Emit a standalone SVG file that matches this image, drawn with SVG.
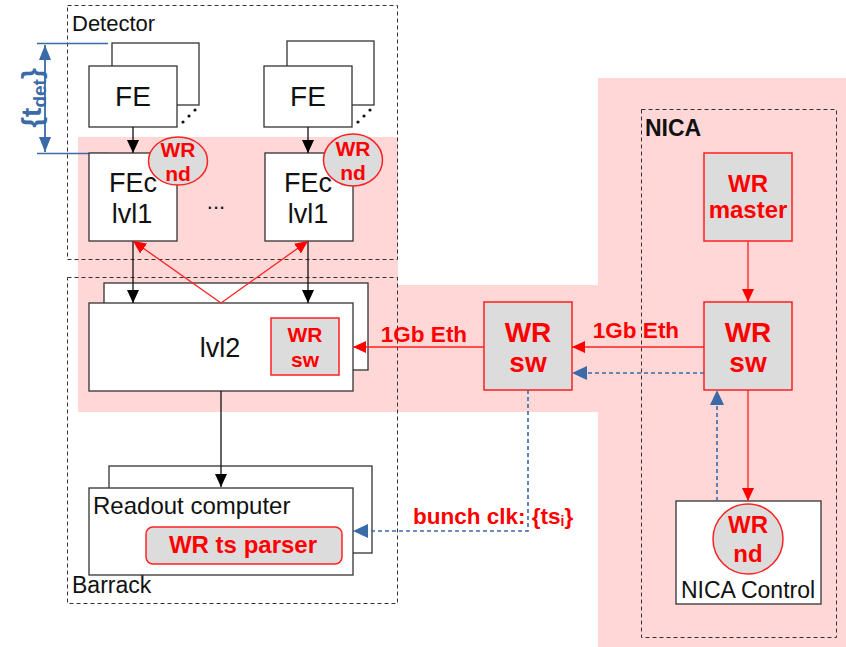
<svg xmlns="http://www.w3.org/2000/svg" width="846" height="647" viewBox="0 0 846 647">
  <style>
    text { font-family: "Liberation Sans", Arial, sans-serif; }
    .box { fill: #ffffff; stroke: #333333; stroke-width: 1.3; }
    .wr { fill: #dcdcdc; stroke: #ff2020; stroke-width: 1.5; }
    .zone { fill: none; stroke: #333333; stroke-width: 1; stroke-dasharray: 4 3; }
    .lbl { font-size: 22px; fill: #111111; }
    .big { font-size: 27px; fill: #111111; text-anchor: middle; }
    .wrt { font-weight: bold; fill: #ff0000; text-anchor: middle; }
    .blk { stroke: #111111; stroke-width: 1.3; fill: none; }
    .red { stroke: #ff2020; stroke-width: 1.3; fill: none; }
    .blu { stroke: #3a6aa8; stroke-width: 1.6; fill: none; stroke-dasharray: 4 3; }
  </style>
  <defs>
    <marker id="ab" markerUnits="userSpaceOnUse" markerWidth="14" markerHeight="14" viewBox="0 0 14 14" refX="13" refY="7" orient="auto">
      <path d="M0,1 L13,7 L0,13 Z" fill="#000000"/>
    </marker>
    <marker id="ar" markerUnits="userSpaceOnUse" markerWidth="14" markerHeight="14" viewBox="0 0 14 14" refX="13" refY="7" orient="auto">
      <path d="M0,1 L13,7 L0,13 Z" fill="#ff0000"/>
    </marker>
    <marker id="au" markerUnits="userSpaceOnUse" markerWidth="16" markerHeight="16" viewBox="0 0 16 16" refX="15" refY="8" orient="auto">
      <path d="M0,1 L15,8 L0,15 Z" fill="#3a6aa8"/>
    </marker>
    <marker id="au2" markerUnits="userSpaceOnUse" markerWidth="16" markerHeight="16" viewBox="0 0 16 16" refX="15" refY="8" orient="auto-start-reverse">
      <path d="M0,2 L15,8 L0,14 Z" fill="#3a6aa8"/>
    </marker>
  </defs>

  <!-- White Rabbit timing domain -->
  <g id="wr-domain" fill="#ffd7d7">
    <rect x="78" y="137" width="320" height="275"/>
    <rect x="397" y="285" width="202" height="127"/>
    <rect x="598" y="78" width="248" height="569"/>
  </g>

  <!-- Zones -->
  <g id="detector">
    <rect class="zone" x="67.5" y="5.5" width="330" height="254"/>
    <text class="lbl" x="72" y="31">Detector</text>
  </g>
  <g id="barrack">
    <rect class="zone" x="67.5" y="277.5" width="330" height="326"/>
    <text class="lbl" x="72" y="593" style="font-size:23px">Barrack</text>
  </g>
  <g id="nica">
    <rect class="zone" x="641.5" y="109.5" width="195" height="528"/>
    <text x="645" y="136" style="font-size:23px;font-weight:bold;fill:#111">NICA</text>
  </g>

  <!-- Detector propagation time -->
  <g id="t-det">
    <line x1="37" y1="43.5" x2="108" y2="43.5" stroke="#3a6aa8" stroke-width="1.5"/>
    <line x1="37" y1="153.5" x2="108" y2="153.5" stroke="#3a6aa8" stroke-width="1.5"/>
    <line x1="45" y1="45" x2="45" y2="152" stroke="#3a6aa8" stroke-width="1.8" marker-start="url(#au2)" marker-end="url(#au2)"/>
    <text transform="translate(41,98) rotate(-90)" text-anchor="middle" style="font-size:28px;font-weight:bold;fill:#3a6aa8">{t<tspan style="font-size:19px" dy="5">det</tspan><tspan dy="-5">}</tspan></text>
  </g>

  <!-- Front-end boards -->
  <g id="fe-left">
    <rect class="box" x="112" y="43" width="87" height="62"/>
    <rect class="box" x="89" y="66" width="88" height="61"/>
    <text class="big" x="133" y="106" style="font-size:28px">FE</text>
    <g fill="#111"><circle cx="183" cy="122" r="1.6"/><circle cx="189" cy="116" r="1.6"/><circle cx="195" cy="110" r="1.6"/></g>
  </g>
  <g id="fe-right">
    <rect class="box" x="287" y="41" width="87" height="64"/>
    <rect class="box" x="264" y="66" width="88" height="61"/>
    <text class="big" x="308" y="106" style="font-size:28px">FE</text>
    <g fill="#111"><circle cx="358" cy="122" r="1.6"/><circle cx="364" cy="116" r="1.6"/><circle cx="370" cy="110" r="1.6"/></g>
  </g>

  <!-- First-level concentrators -->
  <g id="fec-left">
    <rect class="box" x="89" y="153" width="88" height="88"/>
    <text class="big" x="133" y="192">FEc</text>
    <text class="big" x="132" y="223">lvl1</text>
    <ellipse class="wr" cx="178" cy="161" rx="29.5" ry="24"/>
    <text class="wrt" x="178" y="157" style="font-size:21px">WR</text>
    <text class="wrt" x="178" y="181" style="font-size:21px">nd</text>
  </g>
  <text id="fec-more" x="216" y="209" style="font-size:22px;fill:#111" text-anchor="middle">...</text>
  <g id="fec-right">
    <rect class="box" x="265" y="153" width="88" height="88"/>
    <text class="big" x="308" y="192">FEc</text>
    <text class="big" x="308" y="223">lvl1</text>
    <ellipse class="wr" cx="353" cy="160" rx="29.5" ry="26"/>
    <text class="wrt" x="353" y="156" style="font-size:21px">WR</text>
    <text class="wrt" x="353" y="180" style="font-size:21px">nd</text>
  </g>

  <!-- Second level -->
  <g id="lvl2">
    <rect class="box" x="104" y="283" width="264" height="87"/>
    <rect class="box" x="89" y="303" width="264" height="88"/>
    <text class="big" x="220" y="357">lvl2</text>
    <rect class="wr" x="271" y="318" width="68" height="57"/>
    <text class="wrt" x="305" y="342" style="font-size:21px">WR</text>
    <text class="wrt" x="305" y="367" style="font-size:21px">sw</text>
  </g>

  <!-- Readout -->
  <g id="readout">
    <rect class="box" x="109" y="466" width="263" height="87"/>
    <rect class="box" x="89" y="488" width="264" height="87"/>
    <text x="93" y="514" style="font-size:24px;fill:#111">Readout computer</text>
    <rect class="wr" x="146" y="527" width="196" height="37" rx="7"/>
    <text class="wrt" x="243" y="553" style="font-size:24px">WR ts parser</text>
  </g>

  <!-- Intermediate switch -->
  <g id="wr-sw-mid">
    <rect class="wr" x="484" y="302" width="88" height="88"/>
    <text class="wrt" x="528" y="342" style="font-size:28px">WR</text>
    <text class="wrt" x="528" y="372" style="font-size:28px">sw</text>
  </g>

  <!-- NICA timing -->
  <g id="wr-master">
    <rect class="wr" x="704" y="153" width="88" height="88"/>
    <text class="wrt" x="748" y="192" style="font-size:24px">WR</text>
    <text class="wrt" x="748" y="218" style="font-size:24px">master</text>
  </g>
  <g id="wr-sw-nica">
    <rect class="wr" x="704" y="302" width="88" height="88"/>
    <text class="wrt" x="748" y="342" style="font-size:28px">WR</text>
    <text class="wrt" x="748" y="372" style="font-size:28px">sw</text>
  </g>
  <g id="nica-control">
    <rect class="box" x="676" y="501" width="145" height="103"/>
    <circle class="wr" cx="748" cy="539" r="35"/>
    <text class="wrt" x="748" y="533" style="font-size:24px">WR</text>
    <text class="wrt" x="748" y="562" style="font-size:24px">nd</text>
    <text x="748" y="598" text-anchor="middle" style="font-size:23px;fill:#111">NICA Control</text>
  </g>

  <!-- Connectors -->
  <g id="connectors">
    <line class="blk" x1="133" y1="127" x2="133" y2="153" marker-end="url(#ab)"/>
    <line class="blk" x1="308" y1="127" x2="308" y2="153" marker-end="url(#ab)"/>
    <line class="blk" x1="133" y1="241" x2="133" y2="303" marker-end="url(#ab)"/>
    <line class="blk" x1="308" y1="241" x2="308" y2="303" marker-end="url(#ab)"/>
    <line class="red" x1="221" y1="303" x2="133" y2="241" marker-end="url(#ar)"/>
    <line class="red" x1="221" y1="303" x2="308" y2="241" marker-end="url(#ar)"/>
    <line class="blk" x1="221" y1="391" x2="221" y2="487" marker-end="url(#ab)"/>

    <line class="red" x1="748" y1="241" x2="748" y2="302" marker-end="url(#ar)"/>
    <line class="red" x1="704" y1="347" x2="572" y2="347" marker-end="url(#ar)"/>
    <line class="red" x1="484" y1="347" x2="353" y2="347" marker-end="url(#ar)"/>
    <line class="red" x1="748" y1="390" x2="748" y2="501" marker-end="url(#ar)"/>

    <line class="blu" x1="704" y1="373" x2="572" y2="373" marker-end="url(#au)"/>
    <line class="blu" x1="717" y1="501" x2="717" y2="390" marker-end="url(#au)"/>
    <polyline class="blu" points="528,390 528,531 353,531" marker-end="url(#au)"/>

    <text class="wrt" x="424" y="342" style="font-size:22.5px">1Gb Eth</text>
    <text class="wrt" x="636" y="338" style="font-size:22.5px">1Gb Eth</text>
    <text x="413" y="524" style="font-size:22.5px;font-weight:bold;fill:#ff0000">bunch clk: {ts<tspan style="font-size:14px" dy="2">i</tspan><tspan dy="-2">}</tspan></text>
  </g>
</svg>
